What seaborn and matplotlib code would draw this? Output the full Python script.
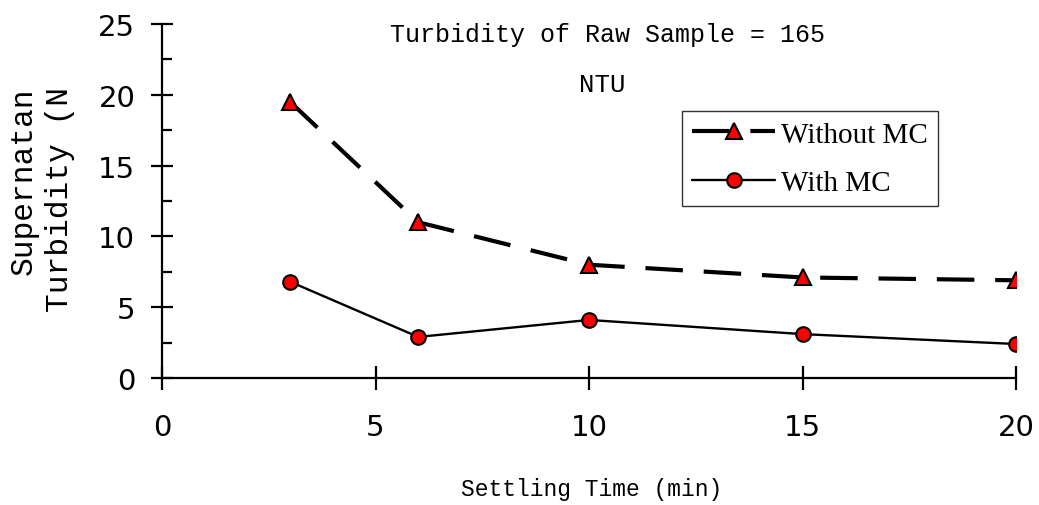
import matplotlib
matplotlib.use("Agg")
import matplotlib.pyplot as plt
import seaborn as sns
import pandas as pd
from matplotlib.ticker import MultipleLocator

# Data
settling_time = [3, 6, 10, 15, 20]
without_mc = [19.5, 11.0, 8.0, 7.1, 6.9]
with_mc = [6.8, 2.9, 4.1, 3.1, 2.4]
x_ticks = [0, 5, 10, 15, 20]
y_ticks = [0, 5, 10, 15, 20, 25]
series_labels = ["Without MC", "With MC"]
title_line1 = "Turbidity of Raw Sample = 165"
title_line2 = "NTU"
xlabel = "Settling Time (min)"
ylabel = "Supernatan\nTurbidity (N"

sns.set_theme(style="white")
plt.rcParams['font.family'] = ['DejaVu Sans']

W, H = 1039, 506
fig = plt.figure(figsize=(W / 100, H / 100), dpi=100)
ax = fig.add_axes([162 / W, 1 - 379 / H, (1016 - 162) / W, (379 - 25) / H])

df = pd.DataFrame({"t": settling_time, "wo": without_mc, "w": with_mc})

sns.lineplot(data=df, x="t", y="wo", ax=ax, color="black", linewidth=3.0,
             linestyle=(0, (9, 5)), marker="^", markersize=11,
             markerfacecolor="red", markeredgecolor="black", markeredgewidth=1.5,
             label=series_labels[0])
sns.lineplot(data=df, x="t", y="w", ax=ax, color="black", linewidth=1.7,
             marker="o", markersize=10.5,
             markerfacecolor="red", markeredgecolor="black", markeredgewidth=1.5,
             label=series_labels[1])

ax.set_xlim(0, 20)
ax.set_ylim(0, 25)
ax.set_xticks(x_ticks)
ax.set_yticks(y_ticks)
ax.yaxis.set_minor_locator(MultipleLocator(2.5))
ax.set_xlabel("")
ax.set_ylabel("")

for s in ["top", "right"]:
    ax.spines[s].set_visible(False)
for s in ["left", "bottom"]:
    ax.spines[s].set_color("black")
    ax.spines[s].set_linewidth(1.6)

ax.tick_params(axis="y", which="major", direction="inout", length=16.5, width=1.6,
               color="black", pad=11, labelsize=21, labelcolor="black", left=True)
ax.tick_params(axis="y", which="minor", direction="in", length=7, width=1.6,
               color="black", left=True)
ax.tick_params(axis="x", which="major", direction="inout", length=17, width=1.6,
               color="black", pad=17, labelsize=21, labelcolor="black", bottom=True)
ax.grid(False)

leg = ax.legend(loc="upper left", bbox_to_anchor=(682 / W, 1 - 112 / H),
                bbox_transform=fig.transFigure, borderaxespad=0,
                prop={"family": "Liberation Serif", "size": 21},
                handlelength=2.85, handletextpad=0.2, borderpad=0.35,
                labelspacing=0.75, numpoints=1, fancybox=False, framealpha=1)
leg.get_frame().set_edgecolor("#333333")
leg.get_frame().set_linewidth(1.0)
for t in leg.get_texts():
    t.set_color("black")

fig.text(607 / W, 1 - 35 / H, title_line1, ha="center", va="center",
         family="Liberation Mono", fontsize=18, color="black")
fig.text(602 / W, 1 - 85 / H, title_line2, ha="center", va="center",
         family="Liberation Mono", fontsize=18.5, color="black")
fig.text(592 / W, 1 - 490 / H, xlabel, ha="center", va="center",
         family="Liberation Mono", fontsize=16.5, color="black")
fig.text(42 / W, 1 - 200 / H, ylabel, ha="center", va="center", rotation=90,
         multialignment="right", linespacing=1.25,
         family="Liberation Mono", fontsize=22.5, color="black")

fig.savefig("out.png", dpi=100, facecolor="white")
